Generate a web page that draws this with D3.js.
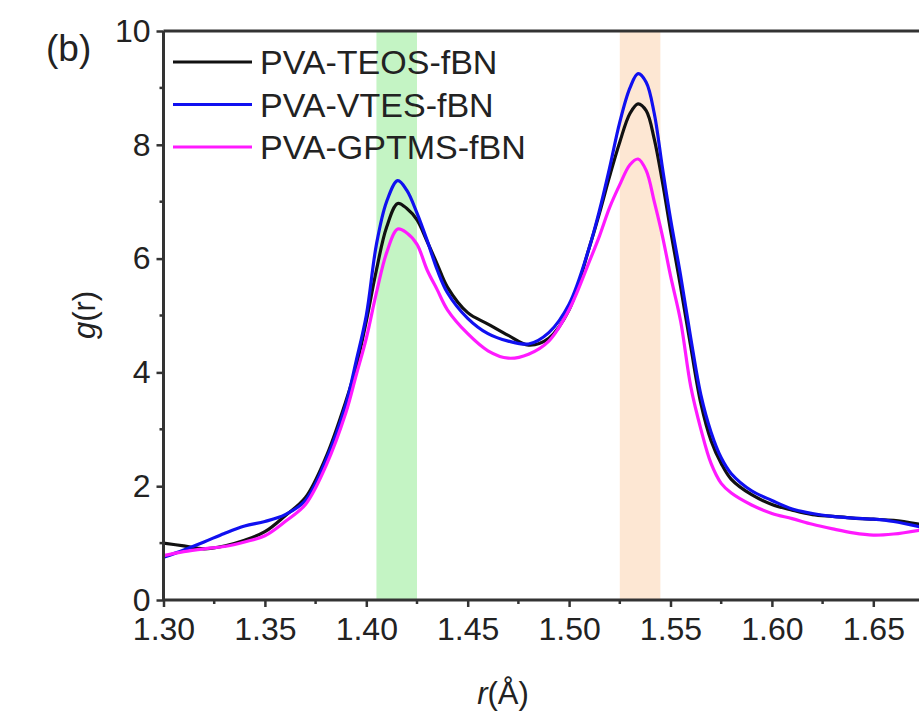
<!DOCTYPE html>
<html>
<head>
<meta charset="utf-8">
<script src="https://cdn.jsdelivr.net/npm/d3@7/dist/d3.min.js"></script>
<style>
  html, body { margin: 0; padding: 0; background: #fff; }
  svg { display: block; }
  text { font-family: "Liberation Sans", Arial, sans-serif; fill: #222; }
</style>
</head>
<body>
<svg id="chart" width="919" height="717"></svg>
<script>
// ---- data ----
const rValues = [1.300,1.310,1.320,1.330,1.340,1.350,1.360,1.370,1.380,1.390,1.395,1.400,1.405,1.410,1.4155,1.420,1.425,1.430,1.435,1.440,1.450,1.460,1.470,1.480,1.490,1.500,1.510,1.515,1.520,1.525,1.530,1.534,1.538,1.542,1.546,1.550,1.555,1.560,1.565,1.570,1.575,1.580,1.590,1.600,1.610,1.620,1.630,1.640,1.650,1.660,1.675];
const teos  = [1.00,0.95,0.90,0.95,1.05,1.20,1.48,1.80,2.50,3.50,4.10,4.90,5.80,6.55,6.97,6.88,6.68,6.30,5.90,5.50,5.05,4.85,4.65,4.48,4.60,5.10,6.20,6.80,7.45,8.05,8.55,8.72,8.60,8.10,7.35,6.50,5.50,4.45,3.45,2.80,2.40,2.12,1.85,1.68,1.58,1.50,1.47,1.44,1.42,1.40,1.32];
const vtes  = [0.75,0.88,1.02,1.17,1.30,1.38,1.50,1.75,2.45,3.45,4.20,5.00,6.25,7.00,7.37,7.20,6.80,6.32,5.80,5.40,4.95,4.68,4.55,4.50,4.70,5.20,6.20,6.85,7.60,8.40,9.00,9.25,9.10,8.55,7.60,6.70,5.70,4.60,3.60,2.95,2.50,2.22,1.92,1.75,1.60,1.52,1.47,1.44,1.42,1.38,1.27];
const gptms = [0.78,0.85,0.90,0.94,1.02,1.13,1.38,1.68,2.35,3.30,3.95,4.60,5.40,6.10,6.52,6.45,6.25,5.80,5.45,5.10,4.68,4.38,4.25,4.32,4.55,5.10,5.95,6.40,6.90,7.30,7.65,7.75,7.55,7.00,6.40,5.70,4.90,3.75,3.00,2.40,2.05,1.88,1.67,1.52,1.43,1.33,1.25,1.18,1.14,1.16,1.24];
const seriesNames = ["PVA-TEOS-fBN", "PVA-VTES-fBN", "PVA-GPTMS-fBN"];
const seriesColors = ["#111111", "#1010f0", "#ff1aff"];
const bands = [[1.405, 1.425], [1.525, 1.545]];
const bandColors = ["#c4f4c4", "#fde7d3"];
const xTicks = [1.30,1.35,1.40,1.45,1.50,1.55,1.60,1.65];
const xMinorTicks = [1.325,1.375,1.425,1.475,1.525,1.575,1.625,1.675];
const yTicks = [0,2,4,6,8,10];
const yMinorTicks = [1,3,5,7,9];

// ---- layout ----
const svg = d3.select("#chart");
const W = 919;
const x0 = 163.5, pxPer005 = 101.4;
const x = d3.scaleLinear().domain([1.30, 1.70]).range([x0, x0 + 8 * pxPer005]);
const y = d3.scaleLinear().domain([0, 10]).range([600, 31]);
const font = "'Liberation Sans', Arial, sans-serif";

svg.append("defs").append("clipPath").attr("id", "plotclip")
  .append("rect").attr("x", x0).attr("y", y(10)).attr("width", W - x0).attr("height", y(0) - y(10));

const plot = svg.append("g").attr("clip-path", "url(#plotclip)");

// bands
bands.forEach((b, i) => {
  plot.append("rect")
    .attr("x", x(b[0])).attr("width", x(b[1]) - x(b[0]))
    .attr("y", y(10)).attr("height", y(0) - y(10))
    .attr("fill", bandColors[i]);
});

// lines
const allSeries = [teos, vtes, gptms];
const line = d3.line()
  .x((d, i) => x(rValues[i]))
  .y(d => y(d))
  .curve(d3.curveCatmullRom.alpha(0.5));
allSeries.forEach((s, i) => {
  plot.append("path").datum(s)
    .attr("d", line)
    .attr("fill", "none")
    .attr("stroke", seriesColors[i])
    .attr("stroke-width", 3.2)
    .attr("stroke-linejoin", "round");
});

// axes
const axisColor = "#333";
const xAxis = d3.axisBottom(x).tickValues(xTicks).tickFormat(d3.format(".2f")).tickSize(7).tickPadding(10);
const gx = svg.append("g").attr("transform", `translate(0,${y(0)})`).call(xAxis);
gx.select(".domain").remove();
gx.selectAll(".tick line").attr("stroke", axisColor).attr("stroke-width", 2.5);
gx.selectAll(".tick text").attr("font-size", 32).attr("fill", "#222").attr("font-family", font);
svg.append("g").selectAll("line").data(xMinorTicks).join("line")
  .attr("x1", d => x(d)).attr("x2", d => x(d))
  .attr("y1", y(0)).attr("y2", y(0) + 4)
  .attr("stroke", axisColor).attr("stroke-width", 2.5);

const yAxis = d3.axisLeft(y).tickValues(yTicks).tickFormat(d3.format("d")).tickSize(7).tickPadding(6);
const gy = svg.append("g").attr("transform", `translate(${x0},0)`).call(yAxis);
gy.select(".domain").remove();
gy.selectAll(".tick line").attr("stroke", axisColor).attr("stroke-width", 2.5);
gy.selectAll(".tick text").attr("font-size", 32).attr("fill", "#222").attr("font-family", font);
svg.append("g").selectAll("line").data(yMinorTicks).join("line")
  .attr("x1", x0 - 4).attr("x2", x0)
  .attr("y1", d => y(d)).attr("y2", d => y(d))
  .attr("stroke", axisColor).attr("stroke-width", 2.5);

// frame lines
svg.append("line").attr("x1", x0).attr("x2", W).attr("y1", y(0)).attr("y2", y(0))
  .attr("stroke", axisColor).attr("stroke-width", 3);
svg.append("line").attr("x1", x0).attr("x2", W).attr("y1", y(10)).attr("y2", y(10))
  .attr("stroke", axisColor).attr("stroke-width", 3);
svg.append("line").attr("x1", x0).attr("x2", x0).attr("y1", y(10)).attr("y2", y(0))
  .attr("stroke", axisColor).attr("stroke-width", 3);

// legend
const legY0 = 62, legDy = 42.5;
seriesNames.forEach((name, i) => {
  const ly = legY0 + i * legDy;
  svg.append("line").attr("x1", 173).attr("x2", 252).attr("y1", ly).attr("y2", ly)
    .attr("stroke", seriesColors[i]).attr("stroke-width", 3);
  svg.append("text").attr("x", 260).attr("y", ly + 12).attr("font-size", 34).text(name);
});

// panel label
svg.append("text").attr("x", 46).attr("y", 61).attr("font-size", 37).text("(b)");

// axis titles
const yt = svg.append("text").attr("transform", `translate(95,315) rotate(-90)`)
  .attr("text-anchor", "middle").attr("font-size", 31);
yt.append("tspan").attr("font-style", "italic").text("g");
yt.append("tspan").text("(r)");

const xt = svg.append("text").attr("x", 503).attr("y", 704)
  .attr("text-anchor", "middle").attr("font-size", 31);
xt.append("tspan").attr("font-style", "italic").text("r");
xt.append("tspan").text("(Å)");
</script>
</body>
</html>
